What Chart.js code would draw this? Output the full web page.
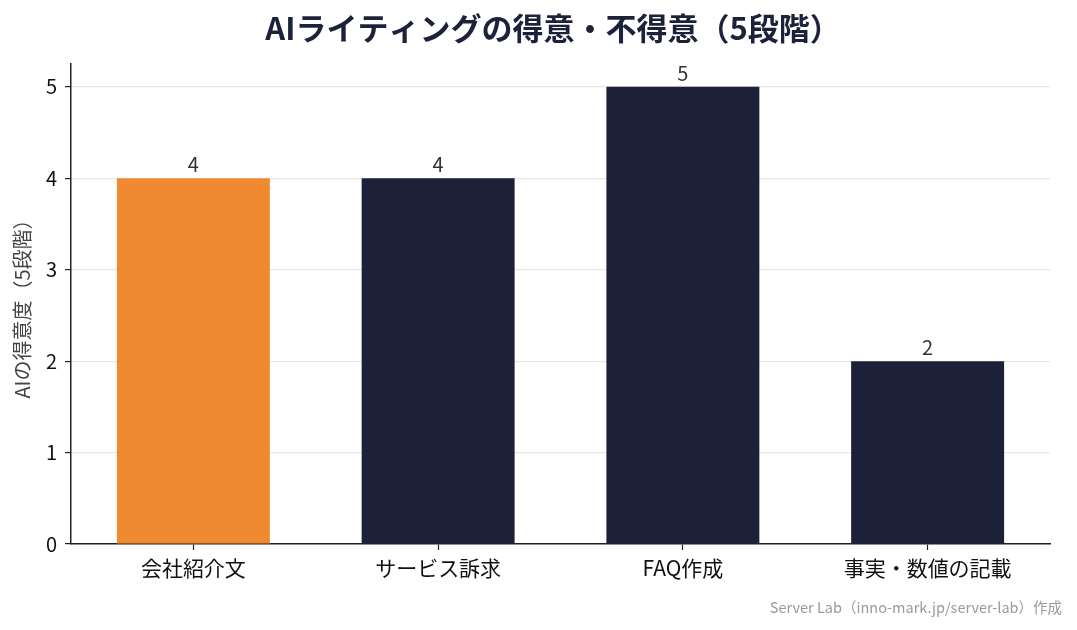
<!DOCTYPE html>
<html lang="ja">
<head>
<meta charset="utf-8">
<script src="https://cdn.jsdelivr.net/npm/chart.js@4.4.1/dist/chart.umd.min.js"></script>
<style>
  html, body { margin: 0; padding: 0; background: #fff; }
  #wrap { width: 1077px; height: 630px; }
</style>
</head>
<body>
<div id="wrap"><canvas id="abilityChart" width="1077" height="630"></canvas></div>
<script>
// データ
const categories = ['会社紹介文', 'サービス訴求', 'FAQ作成', '事実・数値の記載'];
const scores = [4, 4, 5, 2];
const barColors = ['#F08A30', '#1C2039', '#1C2039', '#1C2039'];
const yTicks = [0, 1, 2, 3, 4, 5];

const chartTitle = 'AIライティングの得意・不得意（5段階）';
const yAxisTitle = 'AIの得意度（5段階）';
const footerText = 'Server Lab（inno-mark.jp/server-lab）作成';

const FONT = '"Noto Sans CJK JP", "Noto Sans", sans-serif';

// タイトル・値ラベル・出典を描く
const textPlugin = {
    id: 'textPlugin',
    afterDatasetsDraw(chart) {
        const c = chart.ctx;
        c.save();
        c.fillStyle = '#333333';
        c.font = '20px ' + FONT;
        c.textAlign = 'center';
        c.textBaseline = 'alphabetic';
        chart.getDatasetMeta(0).data.forEach((bar, i) => {
            c.fillText(String(scores[i]), bar.x, bar.y - 6);
        });
        c.restore();
    },
    afterDraw(chart) {
        const c = chart.ctx;
        c.save();
        c.fillStyle = '#1C2239';
        c.font = 'bold 31px ' + FONT;
        c.textAlign = 'center';
        c.textBaseline = 'middle';
        c.fillText(chartTitle, 553, 28);

        c.fillStyle = '#9A9A9A';
        c.font = '14.5px ' + FONT;
        c.textAlign = 'right';
        c.fillText(footerText, 1062, 607);
        c.restore();
    }
};

const ctx = document.getElementById('abilityChart').getContext('2d');
const abilityChart = new Chart(ctx, {
    type: 'bar',
    data: {
        labels: categories,
        datasets: [{
            data: scores,
            backgroundColor: barColors,
            borderWidth: 0,
            barPercentage: 0.625,
            categoryPercentage: 1.0
        }]
    },
    options: {
        responsive: false,
        animation: false,
        devicePixelRatio: 1,
        layout: { padding: { left: 0, right: 27, top: 64, bottom: 0 } },
        plugins: {
            legend: { display: false },
            tooltip: { enabled: false },
            title: { display: false }
        },
        scales: {
            x: {
                offset: true,
                afterFit(scale) { scale.height = 86; },
                border: { display: true, color: '#222222', width: 1.5 },
                grid: {
                    offset: false,
                    drawOnChartArea: false,
                    drawTicks: true,
                    tickLength: 6,
                    tickColor: '#222222',
                    tickWidth: 1.2
                },
                ticks: {
                    color: '#111111',
                    font: { family: FONT, size: 21 },
                    padding: 5,
                    maxRotation: 0
                }
            },
            y: {
                min: 0,
                max: 5.25,
                afterFit(scale) { scale.width = 71; },
                afterBuildTicks(scale) {
                    scale.ticks = yTicks.map(v => ({ value: v }));
                },
                border: { display: true, color: '#222222', width: 1.5 },
                grid: {
                    color: '#E6E6E6',
                    lineWidth: 1.2,
                    drawTicks: true,
                    tickLength: 6,
                    tickColor: '#222222',
                    tickWidth: 1.2
                },
                ticks: {
                    color: '#111111',
                    font: { family: FONT, size: 20 },
                    padding: 8
                },
                title: {
                    display: true,
                    text: yAxisTitle,
                    color: '#444444',
                    font: { family: FONT, size: 20 },
                    padding: { top: 10, bottom: 0 }
                }
            }
        }
    },
    plugins: [textPlugin]
});
</script>
</body>
</html>
